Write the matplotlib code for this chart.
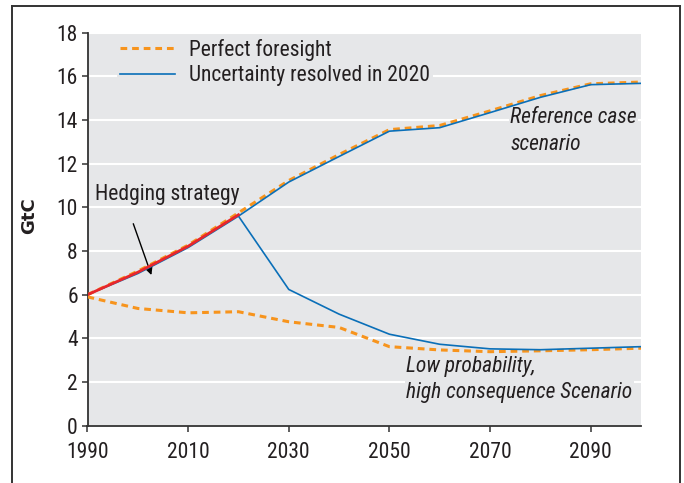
import matplotlib
matplotlib.use("Agg")
import matplotlib.pyplot as plt
from matplotlib.lines import Line2D
from matplotlib.font_manager import FontProperties

plt.rcParams['font.family'] = ['Roboto Condensed', 'Liberation Sans', 'DejaVu Sans']

years = [1990, 2000, 2010, 2020, 2030, 2040, 2050, 2060, 2070, 2080, 2090, 2100]
pf_ref = [6.0, 7.08, 8.27, 9.75, 11.23, 12.42, 13.56, 13.75, 14.42, 15.12, 15.66, 15.74]
pf_low = [5.9, 5.37, 5.17, 5.22, 4.76, 4.5, 3.62, 3.47, 3.39, 3.43, 3.48, 3.55]
unc_ref = [6.0, 6.97, 8.16, 9.6, 11.16, 12.33, 13.49, 13.65, 14.34, 15.04, 15.62, 15.68]
unc_low_years = [2020, 2030, 2040, 2050, 2060, 2070, 2080, 2090, 2100]
unc_low = [9.6, 6.24, 5.11, 4.19, 3.73, 3.52, 3.48, 3.55, 3.62]
hedge_years = [1990, 2000, 2010, 2020]
hedge = [6.0, 7.03, 8.22, 9.66]

ORANGE = '#f7941d'
BLUE = '#0a6fb8'
RED = '#e8262b'
BG = '#e6e7e9'
TXT = '#231f20'
FS = 15.5

fig = plt.figure(figsize=(6.84, 4.83), dpi=100)
ax = fig.add_axes([87.5/684, 1-425.7/483, (641-87.5)/684, (425.7-32.7)/483])
ax.set_facecolor(BG)

ax.plot(years, pf_ref, color=ORANGE, lw=2.2, ls=(0, (2.2, 1.6)), label='Perfect foresight', zorder=3)
ax.plot(years, pf_low, color=ORANGE, lw=2.2, ls=(0, (2.2, 1.6)), zorder=3)
ax.plot(years, unc_ref, color=BLUE, lw=1.2, label='Uncertainty resolved in 2020', zorder=4)
ax.plot(unc_low_years, unc_low, color=BLUE, lw=1.2, zorder=4)
ax.plot(hedge_years, hedge, color=RED, lw=2.0, zorder=5)

ax.set_xlim(1990, 2100)
ax.set_ylim(0, 18)
ax.set_xticks([1990, 2010, 2030, 2050, 2070, 2090])
ax.set_yticks(range(0, 19, 2))
ax.grid(axis='y', color='white', lw=1.5)
ax.set_axisbelow(True)
for s in ['top', 'right']:
    ax.spines[s].set_visible(False)
for s in ['left', 'bottom']:
    ax.spines[s].set_color('#333333')
    ax.spines[s].set_linewidth(1.3)
ax.tick_params(direction='out', length=4, width=1.1, color='#333333',
               labelsize=FS, labelcolor=TXT)
ax.tick_params(axis='x', pad=8)
ax.tick_params(axis='y', pad=3)

gtc_font = FontProperties(family='DejaVu Sans', weight='bold', size=13)
ax.set_ylabel('GtC', fontproperties=gtc_font, color=TXT)
ax.yaxis.set_label_coords((38.5 - 87.5) / (641 - 87.5), (425.7 - 216) / (425.7 - 32.7))

leg = ax.legend(loc='upper left', bbox_to_anchor=(0.034, 1.02), fontsize=FS,
                frameon=True, facecolor=BG, edgecolor='none', framealpha=1,
                handlelength=2.55, handletextpad=0.65, borderpad=0.15, labelspacing=0.2)
for t in leg.get_texts():
    t.set_color(TXT)

ax.text(1991.5, 10.6, 'Hedging strategy', fontsize=FS, color=TXT, ha='left', va='center')
ax.annotate('', xy=(2002.7, 6.9), xytext=(1999.1, 9.25),
            arrowprops=dict(arrowstyle='-|>', color='black', lw=1.0,
                            shrinkA=0, shrinkB=0, mutation_scale=12))

ax.text(2074.0, 13.5, 'Reference case\nscenario', fontsize=FS, style='italic',
        color=TXT, ha='left', va='center', linespacing=1.32,
        bbox=dict(facecolor=BG, edgecolor='none', pad=1))
ax.text(2053.3, 2.12, 'Low probability,\nhigh consequence Scenario', fontsize=FS,
        style='italic', color=TXT, ha='left', va='center', linespacing=1.32,
        bbox=dict(facecolor=BG, edgecolor='none', pad=1))

# figure frame, open at the bottom
fx = lambda px: px / 684
fy = lambda py: 1 - py / 483
kw = dict(color='#333333', lw=1.4, transform=fig.transFigure)
fig.add_artist(Line2D([fx(12), fx(12)], [fy(483), fy(6)], **kw))
fig.add_artist(Line2D([fx(12), fx(680)], [fy(6), fy(6)], **kw))
fig.add_artist(Line2D([fx(680), fx(680)], [fy(6), fy(483)], **kw))

fig.savefig('out.png', dpi=100)
